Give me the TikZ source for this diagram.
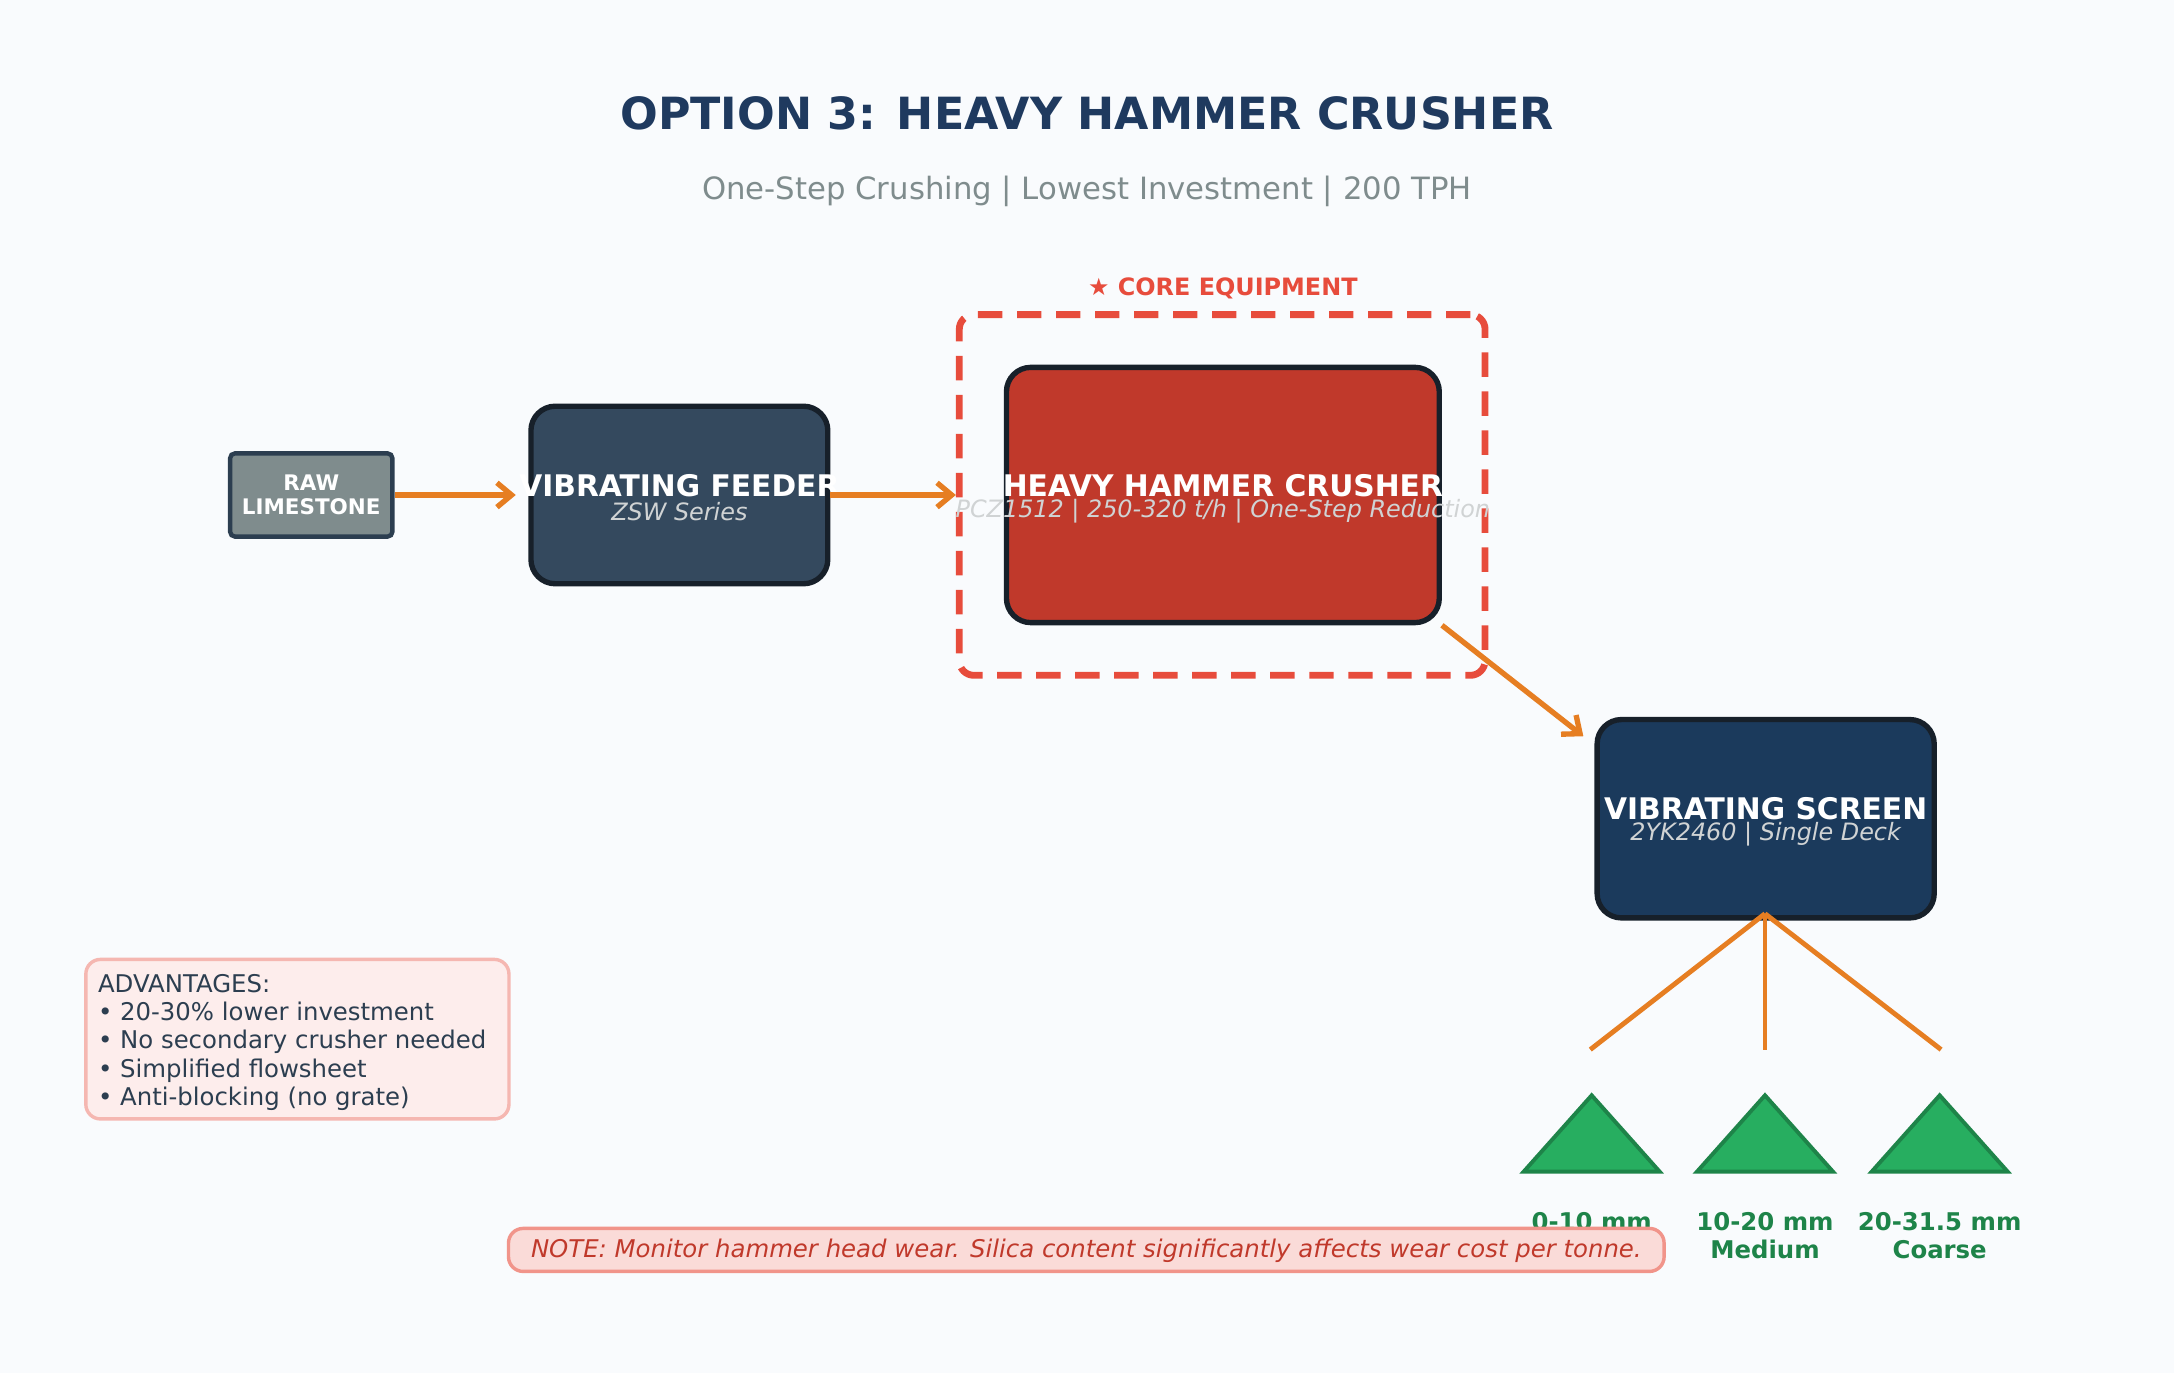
\documentclass[tikz,border=0pt]{standalone}
\usepackage{fontspec}
\setmainfont{DejaVu Sans}
\usetikzlibrary{arrows.meta}
\definecolor{bg}{HTML}{F9FBFD}
\definecolor{navy}{HTML}{1F3A5F}
\definecolor{grayt}{HTML}{7F8C8D}
\definecolor{edge}{HTML}{17202A}
\definecolor{feed}{HTML}{34495E}
\definecolor{crush}{HTML}{C0392B}
\definecolor{scr}{HTML}{1B3A5C}
\definecolor{redl}{HTML}{E74C3C}
\definecolor{org}{HTML}{E67E22}
\definecolor{grn}{HTML}{27AE60}
\definecolor{grnd}{HTML}{1E8449}
\definecolor{subt}{HTML}{D0D3D4}
\definecolor{advf}{HTML}{FDEDEC}
\definecolor{advd}{HTML}{F5B7B1}
\definecolor{notef}{HTML}{FADBD8}
\definecolor{noted}{HTML}{F1948A}
\definecolor{darkt}{HTML}{2C3E50}
\tikzset{
 fs/.style={font=\fontsize{#1}{#1}\selectfont},
 box/.style={draw=edge, line width=1.1pt, rounded corners=5pt, inner sep=0pt},
 tl/.style={text=white, font=\fontsize{6.1}{7}\selectfont\bfseries},
 sl/.style={text=subt, font=\fontsize{4.9}{5.5}\selectfont\itshape},
 flow/.style={draw=org, line width=1.1pt, -{Straight Barb[length=3pt,width=5pt]}},
 branch/.style={draw=org, line width=1pt},
 tri/.style={fill=grn, draw=grnd, line width=0.8pt},
 prod/.style={text=grnd, align=center, font=\fontsize{5}{5.7}\selectfont\bfseries},
}
\begin{document}
\begin{tikzpicture}[x=0.01cm,y=-0.01cm]
\fill[bg] (0,0) rectangle (1568,990);
\node[text=navy, font=\fontsize{9.1}{10}\selectfont\bfseries] (title) at (784,82) {OPTION 3: HEAVY HAMMER CRUSHER};
\node[text=grayt, fs=6.3] (sub) at (784,138) {One-Step Crushing | Lowest Investment | 200 TPH};

\node[fill=grayt, draw=darkt, line width=0.9pt, rounded corners=1pt, inner sep=0pt, minimum width=1.17cm, minimum height=0.6cm] (raw) at (224.5,357) {};
\node[text=white, align=center, font=\fontsize{4.4}{5}\selectfont\bfseries] at (224.5,357) {RAW\\LIMESTONE};

\node[box, fill=feed, minimum width=2.14cm, minimum height=1.28cm] (feeder) at (490,357) {};
\node[tl] at (490,350) {VIBRATING FEEDER};
\node[sl] at (490,369) {ZSW Series};

\node[draw=redl, line width=1.4pt, dash pattern=on 5pt off 3pt, rounded corners=3pt, inner sep=0pt, minimum width=3.79cm, minimum height=2.6cm] (core) at (881.5,357) {};
\node[text=redl, font=\fontsize{4.9}{5.5}\selectfont\bfseries] at (882,208) {★ CORE EQUIPMENT};
\node[box, fill=crush, minimum width=3.12cm, minimum height=1.84cm] (crusher) at (882,357) {};
\node[tl] at (882,350) {HEAVY HAMMER CRUSHER};
\node[sl] at (882,369) {PCZ1512 | 250-320 t/h | One-Step Reduction};

\node[box, fill=scr, minimum width=2.43cm, minimum height=1.43cm] (screen) at (1273.5,590.5) {};
\node[tl] at (1273.5,583) {VIBRATING SCREEN};
\node[sl] at (1273.5,602) {2YK2460 | Single Deck};

\draw[flow] (raw.east) -- (372,357);
\draw[flow] (feeder.east) -- (core.west);
\draw[flow] (crusher.south east) -- (1142,531);

\coordinate (hub) at (1273,659);
\coordinate (e1) at (1147,757);
\coordinate (e2) at (1273,757);
\coordinate (e3) at (1400,757);
\draw[branch] (hub) -- (e1); \draw[branch] (hub) -- (e2); \draw[branch] (hub) -- (e3);

\foreach \x in {1148,1273,1399}{
 \draw[tri] (\x-49,845) -- (\x,790) -- (\x+49,845) -- cycle;
}
\node[prod] (p1) at (1148,891) {0-10 mm\\Fine};
\node[prod] (p2) at (1273,891) {10-20 mm\\Medium};
\node[prod] (p3) at (1399,891) {20-31.5 mm\\Coarse};

\node[fill=advf, draw=advd, line width=0.7pt, rounded corners=3pt, inner sep=0pt, minimum width=3.05cm, minimum height=1.15cm] (adv) at (214.5,749.5) {};
\node[anchor=north west, inner sep=0pt, align=left, text=darkt, font=\fontsize{5}{5.8}\selectfont] at (70,702) {ADVANTAGES:\\• 20-30\% lower investment\\• No secondary crusher needed\\• Simplified flowsheet\\• Anti-blocking (no grate)};

\node[fill=notef, draw=noted, line width=0.7pt, rounded corners=3pt, inner sep=0pt, minimum width=8.33cm, minimum height=0.31cm] (note) at (783.5,901.5) {};
\node[text=crush, font=\fontsize{5}{5.8}\selectfont\itshape] at (783.5,902) {NOTE: Monitor hammer head wear. Silica content significantly affects wear cost per tonne.};
\end{tikzpicture}
\end{document}
